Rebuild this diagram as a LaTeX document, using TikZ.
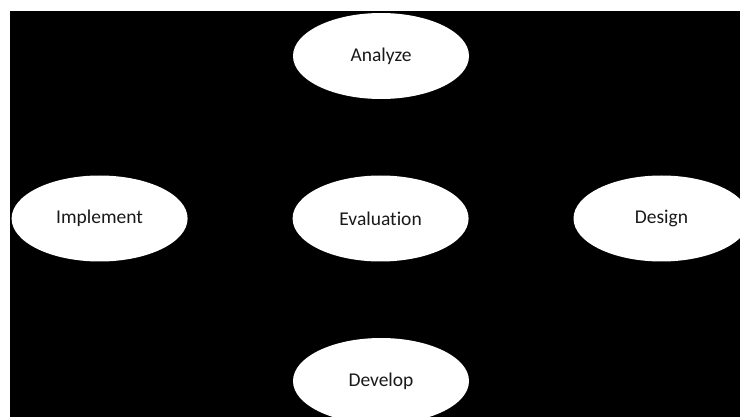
\documentclass[tikz,border=0pt]{standalone}
\usepackage{fontspec}
\setmainfont{Carlito}[Ligatures=NoCommon]
\usetikzlibrary{shapes.geometric}
\begin{document}
\begin{tikzpicture}[x=1pt,y=-1pt,
  phase/.style={ellipse,fill=white,draw=none,minimum width=176pt,minimum height=86pt,inner sep=0pt,
    font=\fontsize{19.5}{23}\selectfont,text=black!90}]
\useasboundingbox (0,0) rectangle (740,417);
\fill[white] (0,0) rectangle (740,417);
\clip (0,0) rectangle (740,417);
\fill[black] (9.5,11) rectangle (740,417);
\node[phase] (analyze) at (381,56) {Analyze};
\node[phase] (implement) at (99.6,218.5) {Implement};
\node[phase] (evaluation) at (380.6,218.5) {Evaluation};
\node[phase] (design) at (661.5,218.5) {Design};
\node[phase] (develop) at (381,381) {Develop};
\end{tikzpicture}
\end{document}
